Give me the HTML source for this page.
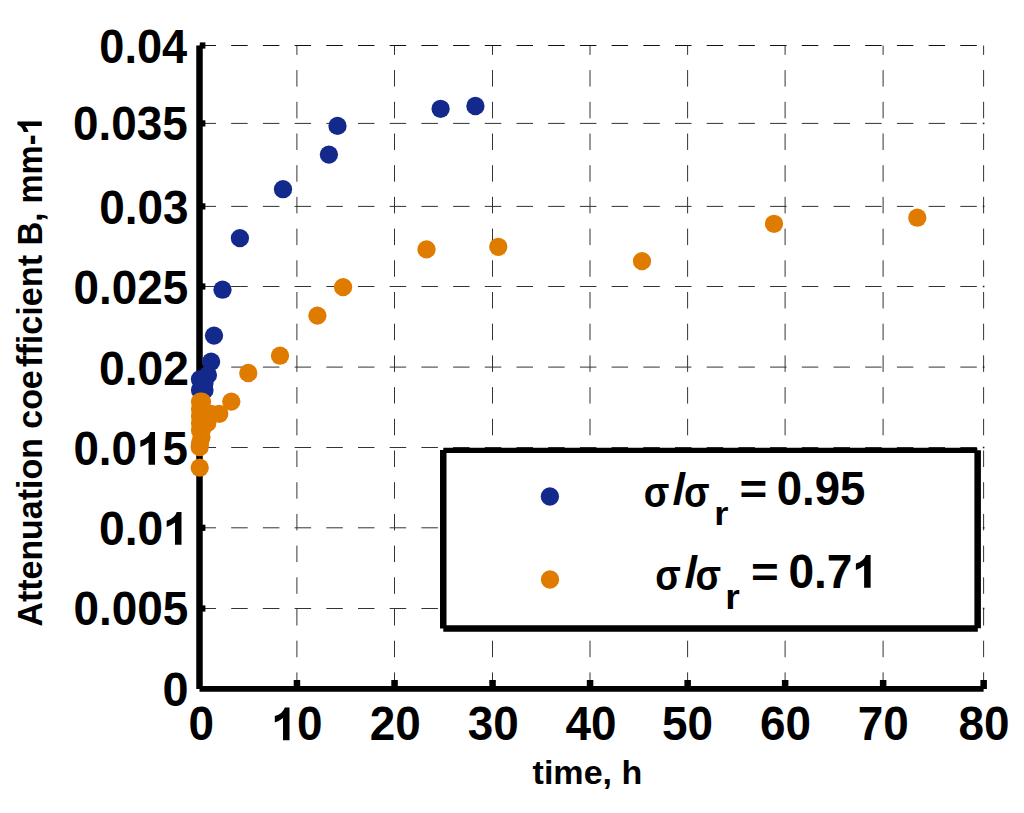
<!DOCTYPE html>
<html><head><meta charset="utf-8"><style>
html,body{margin:0;padding:0;background:#fff;}
svg{display:block;}
.g{stroke:#333;stroke-width:1;stroke-dasharray:16.5 15.2;fill:none;}
text{font-family:"Liberation Sans",sans-serif;font-weight:bold;fill:#000;}
</style></head><body>
<svg width="1024" height="813" viewBox="0 0 1024 813">
<rect width="1024" height="813" fill="#fff"/>
<line x1="199.5" y1="45.5" x2="983.6" y2="45.5" class="g" style="stroke:#111"/>
<line x1="199.5" y1="123.4" x2="983.6" y2="123.4" class="g"/>
<line x1="199.5" y1="206.4" x2="983.6" y2="206.4" class="g"/>
<line x1="199.5" y1="286.5" x2="983.6" y2="286.5" class="g"/>
<line x1="199.5" y1="367.1" x2="983.6" y2="367.1" class="g"/>
<line x1="199.5" y1="447.5" x2="983.6" y2="447.5" class="g"/>
<line x1="199.5" y1="527.8" x2="983.6" y2="527.8" class="g"/>
<line x1="199.5" y1="608.5" x2="983.6" y2="608.5" class="g"/>
<line x1="296.9" y1="688.9" x2="296.9" y2="45.5" class="g"/>
<line x1="394.5" y1="688.9" x2="394.5" y2="45.5" class="g"/>
<line x1="492.5" y1="688.9" x2="492.5" y2="45.5" class="g"/>
<line x1="590.0" y1="688.9" x2="590.0" y2="45.5" class="g"/>
<line x1="687.6" y1="688.9" x2="687.6" y2="45.5" class="g"/>
<line x1="785.1" y1="688.9" x2="785.1" y2="45.5" class="g"/>
<line x1="883.1" y1="688.9" x2="883.1" y2="45.5" class="g"/>
<line x1="983.6" y1="688.9" x2="983.6" y2="45.5" class="g"/>
<rect x="982.8" y="122.6" width="1.6" height="1.6" fill="#222"/>
<rect x="982.8" y="205.6" width="1.6" height="1.6" fill="#222"/>
<rect x="982.8" y="285.7" width="1.6" height="1.6" fill="#222"/>
<rect x="982.8" y="366.3" width="1.6" height="1.6" fill="#222"/>
<rect x="982.8" y="446.7" width="1.6" height="1.6" fill="#222"/>
<rect x="982.8" y="527.0" width="1.6" height="1.6" fill="#222"/>
<rect x="982.8" y="607.7" width="1.6" height="1.6" fill="#222"/>
<line x1="199.5" y1="45.5" x2="199.5" y2="688.9" stroke="#000" stroke-width="6.5"/>
<line x1="199.5" y1="688.9" x2="983.6" y2="688.9" stroke="#000" stroke-width="5.6"/>
<rect x="199.8" y="42.4" width="5.6" height="6.2" fill="#000"/>
<rect x="199.8" y="120.3" width="5.6" height="6.2" fill="#000"/>
<rect x="199.8" y="203.3" width="5.6" height="6.2" fill="#000"/>
<rect x="199.8" y="283.4" width="5.6" height="6.2" fill="#000"/>
<rect x="199.8" y="364.0" width="5.6" height="6.2" fill="#000"/>
<rect x="199.8" y="444.4" width="5.6" height="6.2" fill="#000"/>
<rect x="199.8" y="524.7" width="5.6" height="6.2" fill="#000"/>
<rect x="199.8" y="605.4" width="5.6" height="6.2" fill="#000"/>
<rect x="293.7" y="680" width="6.5" height="9" fill="#000"/>
<rect x="391.3" y="680" width="6.5" height="9" fill="#000"/>
<rect x="489.3" y="680" width="6.5" height="9" fill="#000"/>
<rect x="586.8" y="680" width="6.5" height="9" fill="#000"/>
<rect x="684.4" y="680" width="6.5" height="9" fill="#000"/>
<rect x="781.9" y="680" width="6.5" height="9" fill="#000"/>
<rect x="879.9" y="680" width="6.5" height="9" fill="#000"/>
<rect x="980.4" y="680" width="6.5" height="9" fill="#000"/>
<circle cx="440.6" cy="108.8" r="9.15" fill="#13298b"/>
<circle cx="475.4" cy="106.0" r="9.15" fill="#13298b"/>
<circle cx="337.5" cy="125.9" r="9.15" fill="#13298b"/>
<circle cx="328.9" cy="154.6" r="9.15" fill="#13298b"/>
<circle cx="283.0" cy="189.2" r="9.15" fill="#13298b"/>
<circle cx="239.9" cy="238.1" r="9.15" fill="#13298b"/>
<circle cx="222.5" cy="289.7" r="9.15" fill="#13298b"/>
<circle cx="214.0" cy="335.6" r="9.15" fill="#13298b"/>
<circle cx="211.1" cy="361.7" r="9.15" fill="#13298b"/>
<circle cx="207.9" cy="374.9" r="9.15" fill="#13298b"/>
<circle cx="200" cy="379.2" r="9.15" fill="#13298b"/>
<circle cx="204.5" cy="383" r="9.15" fill="#13298b"/>
<circle cx="204.5" cy="390" r="9.15" fill="#13298b"/>
<circle cx="200" cy="390" r="9.15" fill="#13298b"/>
<circle cx="917.3" cy="217.7" r="9.15" fill="#df7c00"/>
<circle cx="774.0" cy="223.8" r="9.15" fill="#df7c00"/>
<circle cx="642.0" cy="261.1" r="9.15" fill="#df7c00"/>
<circle cx="498.3" cy="246.8" r="9.15" fill="#df7c00"/>
<circle cx="426.5" cy="249.4" r="9.15" fill="#df7c00"/>
<circle cx="343.1" cy="287.1" r="9.15" fill="#df7c00"/>
<circle cx="317.4" cy="315.6" r="9.15" fill="#df7c00"/>
<circle cx="280.0" cy="355.7" r="9.15" fill="#df7c00"/>
<circle cx="248.3" cy="373.0" r="9.15" fill="#df7c00"/>
<circle cx="231.3" cy="401.6" r="9.15" fill="#df7c00"/>
<circle cx="200" cy="401.6" r="9.15" fill="#df7c00"/>
<circle cx="202" cy="401.6" r="9.15" fill="#df7c00"/>
<circle cx="211" cy="413.8" r="9.15" fill="#df7c00"/>
<circle cx="219.3" cy="413.8" r="9.15" fill="#df7c00"/>
<circle cx="207.3" cy="423" r="9.15" fill="#df7c00"/>
<circle cx="202" cy="429" r="9.15" fill="#df7c00"/>
<circle cx="200" cy="409" r="9.15" fill="#df7c00"/>
<circle cx="200" cy="416" r="9.15" fill="#df7c00"/>
<circle cx="200" cy="423" r="9.15" fill="#df7c00"/>
<circle cx="200" cy="430" r="9.15" fill="#df7c00"/>
<circle cx="201.5" cy="437" r="9.15" fill="#df7c00"/>
<circle cx="200" cy="443" r="9.15" fill="#df7c00"/>
<circle cx="199.7" cy="447.1" r="9.15" fill="#df7c00"/>
<circle cx="199.7" cy="467.7" r="9.15" fill="#df7c00"/>
<text transform="translate(99.31,62.95) scale(0.9511,1)" font-size="47.50" class="t">0.04</text>
<text transform="translate(72.99,140.15) scale(0.9657,1)" font-size="47.50" class="t">0.035</text>
<text transform="translate(99.18,223.70) scale(0.9668,1)" font-size="47.50" class="t">0.03</text>
<text transform="translate(73.39,304.15) scale(0.9657,1)" font-size="47.50" class="t">0.025</text>
<text transform="translate(98.97,384.55) scale(0.9733,1)" font-size="47.50" class="t">0.02</text>
<text transform="translate(73.39,464.80) scale(0.9631,1)" font-size="47.50" class="t">0.0 5</text>
<path d="M0.394 0 L0.394 0.69 L0.292 0.69 Q0.25 0.56 0.074 0.509 L0.074 0.375 Q0.18 0.41 0.253 0.47 L0.253 0 Z" transform="translate(136.99,464.80) scale(45.748,-47.500)"/>
<text transform="translate(98.97,544.85) scale(0.9738,1)" font-size="47.50" class="t">0.0 </text>
<path d="M0.394 0 L0.394 0.69 L0.292 0.69 Q0.25 0.56 0.074 0.509 L0.074 0.375 Q0.18 0.41 0.253 0.47 L0.253 0 Z" transform="translate(163.27,544.85) scale(46.257,-47.500)"/>
<text transform="translate(73.38,625.30) scale(0.9674,1)" font-size="47.50" class="t">0.005</text>
<text transform="translate(162.45,705.90) scale(0.9871,1)" font-size="47.50" class="t">0</text>
<text transform="translate(188.47,740.30) scale(0.9663,1)" font-size="47.50" class="t">0</text>
<text transform="translate(271.42,740.30) scale(0.9663,1)" font-size="47.50" class="t"> 0</text>
<path d="M0.394 0 L0.394 0.69 L0.292 0.69 Q0.25 0.56 0.074 0.509 L0.074 0.375 Q0.18 0.41 0.253 0.47 L0.253 0 Z" transform="translate(271.42,740.30) scale(45.900,-47.500)"/>
<text transform="translate(369.82,740.30) scale(0.9663,1)" font-size="47.50" class="t">20</text>
<text transform="translate(467.69,740.30) scale(0.9663,1)" font-size="47.50" class="t">30</text>
<text transform="translate(565.57,740.30) scale(0.9663,1)" font-size="47.50" class="t">40</text>
<text transform="translate(661.91,740.30) scale(0.9663,1)" font-size="47.50" class="t">50</text>
<text transform="translate(760.07,740.30) scale(0.9663,1)" font-size="47.50" class="t">60</text>
<text transform="translate(857.73,740.30) scale(0.9663,1)" font-size="47.50" class="t">70</text>
<text transform="translate(958.59,740.30) scale(0.9663,1)" font-size="47.50" class="t">80</text>
<text transform="translate(532.58,783.70) scale(1.0134,1)" font-size="33.60" class="t">time, h</text>
<g transform="translate(41.8,625.7) rotate(-90)"><text transform="translate(-0.84,0.00) scale(0.9610,1)" font-size="35.30" class="t">Attenuation coe</text><text transform="translate(258.72,0.00) scale(0.9697,1)" font-size="35.30" class="t">fficient</text><text transform="translate(380.31,0.00) scale(0.9285,1)" font-size="35.30" class="t">B, mm- </text>
<path d="M0.394 0 L0.394 0.69 L0.292 0.69 Q0.25 0.56 0.074 0.509 L0.074 0.375 Q0.18 0.41 0.253 0.47 L0.253 0 Z" transform="translate(491.39,0.00) scale(32.775,-35.300)"/></g>
<rect x="443.3" y="450" width="534.4" height="178.4" fill="#fff"/>
<path d="M443.3 447.8H977.3V453H443.3Z M440 450H446.5V628.4H440Z M974.4 450.3H980.9V628.3H974.4Z M443.3 625.3H977.8V631.7H443.3Z"/>
<circle cx="549.9" cy="496.5" r="9.15" fill="#13298b"/>
<circle cx="550" cy="579.5" r="9.15" fill="#df7c00"/>
<text transform="translate(643.64,506.60) scale(0.8905,1)" font-size="42.00" class="t">σ</text>
<text transform="translate(672.73,504.00) scale(1.0926,1)" font-size="44.30" class="t">/</text>
<text transform="translate(683.94,506.60) scale(0.8905,1)" font-size="42.00" class="t">σ</text>
<text transform="translate(714.30,525.10) scale(1.0833,1)" font-size="33.60" class="t">r</text>
<text transform="translate(739.53,503.80) scale(1.1072,1)" font-size="42.90" class="t">=</text>
<text transform="translate(776.70,505.10) scale(0.9452,1)" font-size="48.20" class="t">0.95</text>
<text transform="translate(655.14,589.59) scale(0.8990,1)" font-size="41.60" class="t">σ</text>
<text transform="translate(684.73,587.21) scale(1.0852,1)" font-size="44.60" class="t">/</text>
<text transform="translate(695.44,589.59) scale(0.8990,1)" font-size="41.60" class="t">σ</text>
<text transform="translate(725.14,608.80) scale(1.0478,1)" font-size="35.60" class="t">r</text>
<text transform="translate(750.93,587.10) scale(1.1072,1)" font-size="42.90" class="t">=</text>
<text transform="translate(788.38,587.73) scale(0.9705,1)" font-size="47.50" class="t">0.7 </text>
<path d="M0.394 0 L0.394 0.69 L0.292 0.69 Q0.25 0.56 0.074 0.509 L0.074 0.375 Q0.18 0.41 0.253 0.47 L0.253 0 Z" transform="translate(852.46,587.73) scale(46.100,-47.500)"/>
</svg>
</body></html>
